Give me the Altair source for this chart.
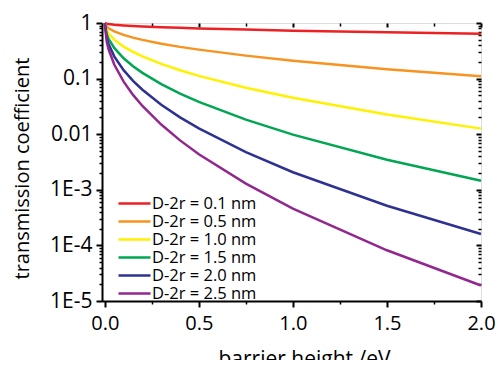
import altair as alt
import pandas as pd

# barrier height (eV) sample points
barrier_eV = [0.0, 0.01, 0.02, 0.05, 0.1, 0.15, 0.2, 0.3, 0.4, 0.5, 0.75, 1.0, 1.5, 2.0]

# transmission coefficients
t_01 = [1.0, 0.969, 0.956, 0.932, 0.905, 0.885, 0.868, 0.841, 0.819, 0.800, 0.761, 0.729, 0.679, 0.640]
t_05 = [1.0, 0.855, 0.802, 0.705, 0.610, 0.546, 0.497, 0.425, 0.372, 0.332, 0.259, 0.210, 0.148, 0.110]
t_10 = [1.0, 0.734, 0.646, 0.501, 0.376, 0.302, 0.251, 0.184, 0.141, 0.112, 0.0686, 0.0453, 0.0226, 0.0126]
t_15 = [1.0, 0.630, 0.520, 0.356, 0.232, 0.167, 0.127, 0.0796, 0.0538, 0.0381, 0.0183, 0.00984, 0.00348, 0.00145]
t_20 = [1.0, 0.539, 0.417, 0.251, 0.142, 0.0913, 0.0630, 0.0339, 0.0201, 0.0127, 0.00474, 0.00207, 0.000516, 0.000160]
t_25 = [1.0, 0.464, 0.337, 0.179, 0.0880, 0.0510, 0.0322, 0.0149, 0.00774, 0.00436, 0.00129, 0.000459, 0.0000817, 0.0000190]

series_labels = ["D-2r = 0.1 nm", "D-2r = 0.5 nm", "D-2r = 1.0 nm",
                 "D-2r = 1.5 nm", "D-2r = 2.0 nm", "D-2r = 2.5 nm"]
series_colors = ["#ed2024", "#f7931e", "#fff200", "#00a651", "#2e3192", "#92278f"]

x_ticks = [0.0, 0.25, 0.5, 0.75, 1.0, 1.25, 1.5, 1.75, 2.0]
y_ticks = [m * 10.0 ** e for e in range(-5, 0) for m in range(1, 10)] + [1.0]

rows = []
for lab, ys in zip(series_labels, [t_01, t_05, t_10, t_15, t_20, t_25]):
    for xv, yv in zip(barrier_eV, ys):
        rows.append({"x": xv, "t": yv, "series": lab})
df = pd.DataFrame(rows)

W, H = 379, 278
FONT = "Open Sans"

y_major = "abs(log(datum.value)/LN10 - round(log(datum.value)/LN10)) < 0.01"
y_exp = "round(log(datum.value)/LN10)"
y_label = (f"({y_major}) ? ({y_exp} == 0 ? '1' : {y_exp} == -1 ? '0.1' : "
           f"{y_exp} == -2 ? '0.01' : '1E' + {y_exp}) : ''")
x_major = "abs(datum.value*2 - round(datum.value*2)) < 0.001"
x_label = f"({x_major}) ? format(datum.value, '.1f') : ''"

x_scale = alt.Scale(domain=[-0.015, 2.0], nice=False, zero=False)
y_scale = alt.Scale(type="log", domain=[1e-5, 1], nice=False)

bottom_axis = alt.Axis(
    orient="bottom", values=x_ticks, labelExpr=x_label, grid=False,
    tickSize=6, tickColor="black",
    tickWidth={"condition": {"test": x_major, "value": 2}, "value": 1.5},
    tickDash={"condition": {"test": x_major, "value": [10, 0]}, "value": [3, 10]},
    domainColor="black", domainWidth=2,
    labelFont=FONT, labelFontSize=20, labelColor="black", labelPadding=6,
    labelFlush=False, labelOverlap=False,
    title="barrier height /eV", titleFont=FONT, titleFontSize=21,
    titleFontWeight="normal", titleColor="black",
    titleX=202, titleY=64, titleAlign="center", titleBaseline="alphabetic", titleAngle=0,
)
left_axis = alt.Axis(
    orient="left", values=y_ticks, labelExpr=y_label, grid=False,
    tickSize=6, tickColor="black",
    tickWidth={"condition": {"test": y_major, "value": 2}, "value": 1.5},
    tickDash={"condition": {"test": y_major, "value": [10, 0]}, "value": [3, 10]},
    domainColor="black", domainWidth=2,
    labelFont=FONT, labelFontSize=21, labelColor="black", labelPadding=4,
    labelFlush=False, labelOverlap=False,
    title="transmission coefficient", titleFont=FONT, titleFontSize=20,
    titleFontWeight="normal", titleColor="black",
    titleX=-74, titleY=145, titleAlign="center", titleBaseline="alphabetic", titleAngle=270,
)
top_axis = alt.Axis(
    orient="top", values=x_ticks, labels=False, domain=False, grid=False, title=None,
    offset=-4, tickSize=4, tickColor="black",
    tickWidth={"condition": {"test": x_major, "value": 2}, "value": 1.5},
    tickDash={"condition": {"test": x_major, "value": [10, 0]}, "value": [0, 1, 3, 10]},
)
right_axis = alt.Axis(
    orient="right", values=y_ticks, labels=False, domain=False, grid=False, title=None,
    offset=-5, tickSize=5, tickColor="black",
    tickWidth={"condition": {"test": y_major, "value": 2}, "value": 1.5},
    tickDash={"condition": {"test": y_major, "value": [10, 0]}, "value": [0, 2, 3, 10]},
)

lines = alt.Chart(df).mark_line(strokeWidth=2.5).encode(
    x=alt.X("x:Q", scale=x_scale, axis=bottom_axis),
    y=alt.Y("t:Q", scale=y_scale, axis=left_axis),
    color=alt.Color(
        "series:N",
        scale=alt.Scale(domain=series_labels, range=series_colors),
        sort=series_labels,
        legend=alt.Legend(
            orient="none", legendX=23, legendY=171, title=None,
            symbolType="M-2,0H2", symbolSize=256, symbolStrokeWidth=2.5,
            labelFont=FONT, labelFontSize=16.5, labelColor="black",
            labelOffset=8, rowPadding=-1.2, padding=0,
        ),
    ),
    detail="series:N",
)

frame = alt.Chart(df).mark_point(opacity=0).encode(
    x=alt.X("x:Q", scale=x_scale, axis=top_axis),
    y=alt.Y("t:Q", scale=y_scale, axis=right_axis),
)

chart = alt.layer(lines, frame).resolve_axis(
    x="independent", y="independent"
).properties(
    width=W, height=H,
    autosize=alt.AutoSizeParams(type="none"),
    padding={"left": 94, "top": 15, "right": 15, "bottom": 59},
).configure_view(
    stroke="black", strokeWidth=2
).configure(background="white")

chart.save("out.html", embed_options={"renderer": "svg", "actions": False})
